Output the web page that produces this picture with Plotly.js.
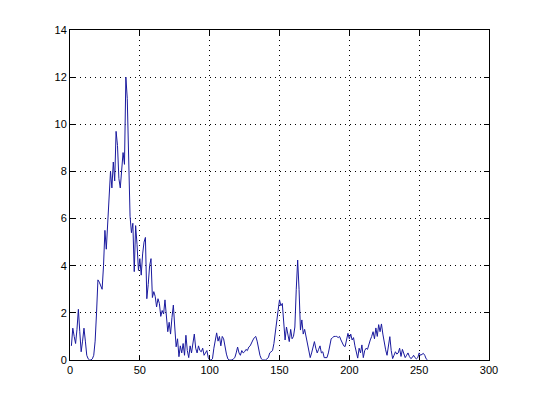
<!DOCTYPE html>
<html>
<head>
<meta charset="utf-8">
<script src="https://cdn.plot.ly/plotly-3.0.1.min.js"></script>
<style>html,body{margin:0;padding:0;background:#fff;}#chart{width:540px;height:405px;}</style>
</head>
<body>
<div id="chart"></div>
<script>
// sample values, sample index 1..N
const seg1 = [0.6,1.35,1.0,0.7,1.3,2.15,1.2,0.35,0.8,1.35,0.8,0.2,0.05,0.0,0.0,0.05,0.2,0.8,2.0,3.4];
const seg2 = [3.3,3.1,3.0,4.0,5.5,4.7,5.9,6.6,8.0,7.3,8.4,7.6,9.7,9.1,7.7,7.3,8.0,8.8,8.3,12.0];
const seg3 = [11.1,8.7,6.1,5.4,5.8,3.75,5.7,4.9,3.8,4.3,3.6,4.5,5.0,5.2,2.6,3.2,4.0,4.3,2.65,2.9];
const seg4 = [2.7,2.25,2.6,2.4,1.85,2.1,1.95,2.55,1.7,1.2,1.6,1.1,1.8,2.33,1.4,0.56,0.9,0.14,0.6,0.3];
const seg5 = [0.7,0.2,1.05,0.4,0.1,0.6,0.3,0.8,1.1,0.5,0.3,0.6,0.4,0.35,0.5,0.2,0.3,0.4,0.1,0.0];
const seg6 = [0.0,0.05,0.5,0.9,1.15,0.8,1.0,0.6,1.0,0.9,0.5,0.25,0.05,0.0,0.0,0.0,0.05,0.1,0.3,0.55];
const seg7 = [0.3,0.2,0.4,0.3,0.35,0.45,0.4,0.55,0.6,0.75,0.85,0.95,1.0,0.8,0.4,0.2,0.05,0.0,0.0,0.0];
const seg8 = [0.05,0.1,0.3,0.35,0.4,0.7,1.1,1.5,2.1,2.55,2.3,2.4,1.6,0.85,1.4,1.0,0.78,1.3,0.9,1.0];
const seg9 = [1.4,3.0,4.24,3.0,1.27,1.7,1.1,1.3,1.0,0.7,0.4,0.1,0.3,0.5,0.78,0.5,0.3,0.45,0.6,0.3];
const seg10 = [0.35,0.1,0.1,0.1,0.3,0.7,0.9,0.95,1.0,1.0,1.0,0.95,1.0,0.85,0.7,0.6,0.57,0.8,1.13,0.9];
const seg11 = [1.1,0.85,0.95,0.6,0.3,0.08,0.5,0.3,0.64,0.1,0.4,0.5,0.45,0.7,0.85,1.0,1.2,0.9,1.36,1.0];
const seg12 = [1.5,1.2,1.53,1.1,0.7,0.43,0.2,0.6,0.99,0.4,0.06,0.2,0.35,0.25,0.3,0.5,0.15,0.45,0.25,0.1];
const seg13 = [0.2,0.3,0.15,0.06,0.1,0.2,0.1,0.05,0.1,0.3,0.2,0.25,0.28,0.2,0.05,0.0];
const values = [].concat(seg1,seg2,seg3,seg4,seg5,seg6,seg7,seg8,seg9,seg10,seg11,seg12,seg13);
const sampleIndex = values.map((v, i) => i + 1);

const xTicks = [0,50,100,150,200,250,300];
const yTicks = [0,2,4,6,8,10,12,14];

const axisCommon = {
  showline: true, linecolor: '#000', linewidth: 1, mirror: 'ticks',
  ticks: 'inside', ticklen: 5, tickcolor: '#000', tickwidth: 1,
  showgrid: true, gridcolor: '#000', gridwidth: 1, griddash: '1px,4px',
  zeroline: false,
  tickfont: {family: 'Liberation Sans, Arial, sans-serif', size: 11, color: '#000'}
};

Plotly.newPlot('chart', [{
  x: sampleIndex, y: values, type: 'scatter', mode: 'lines',
  line: {color: '#1a1a9e', width: 1}, hoverinfo: 'none'
}], {
  width: 540, height: 405,
  margin: {l: 70, r: 51, t: 30, b: 45},
  paper_bgcolor: '#fff', plot_bgcolor: '#fff',
  showlegend: false,
  xaxis: Object.assign({}, axisCommon, {range: [0, 300], tickvals: xTicks, ticktext: xTicks.map(String)}),
  yaxis: Object.assign({}, axisCommon, {range: [0, 14], tickvals: yTicks, ticktext: yTicks.map(String)})
}, {staticPlot: true, displayModeBar: false});
</script>
</body>
</html>
